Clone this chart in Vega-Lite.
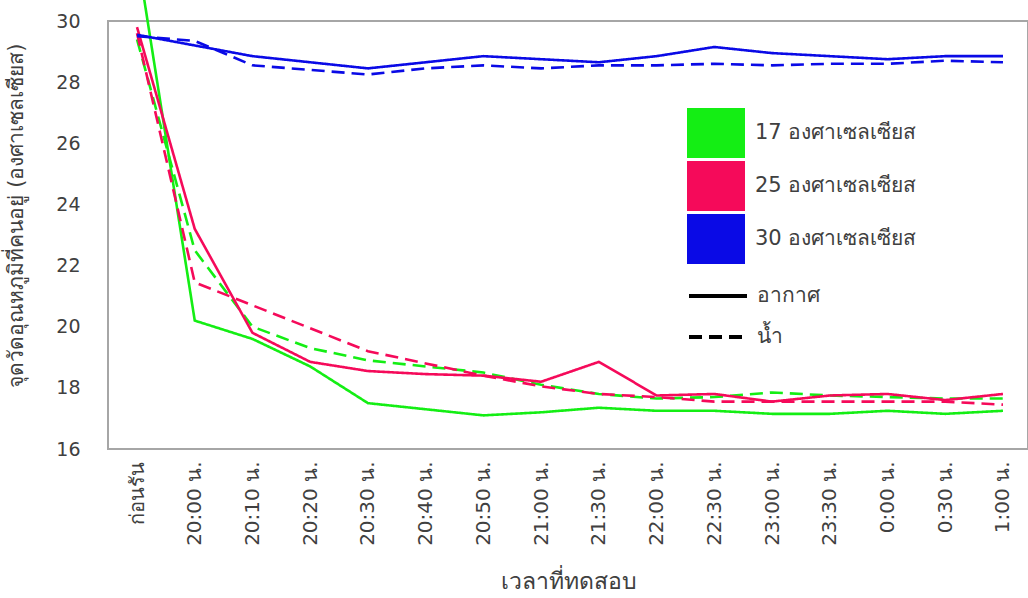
{
  "$schema": "https://vega.github.io/schema/vega-lite/v6.json",
  "autosize": "none",
  "width": 920,
  "height": 428,
  "padding": {"left": 108, "top": 21, "right": 0, "bottom": 149},
  "background": "white",
  "config": {
    "view": {"stroke": "#A6A6A6", "strokeWidth": 2},
    "font": "DejaVu Sans"
  },
  "data": {
    "values": [
      {"time": "ก่อนรัน", "temp": 32.2, "setting": "17 องศาเซลเซียส", "medium": "อากาศ"},
      {"time": "20:00 น.", "temp": 20.2, "setting": "17 องศาเซลเซียส", "medium": "อากาศ"},
      {"time": "20:10 น.", "temp": 19.6, "setting": "17 องศาเซลเซียส", "medium": "อากาศ"},
      {"time": "20:20 น.", "temp": 18.7, "setting": "17 องศาเซลเซียส", "medium": "อากาศ"},
      {"time": "20:30 น.", "temp": 17.5, "setting": "17 องศาเซลเซียส", "medium": "อากาศ"},
      {"time": "20:40 น.", "temp": 17.3, "setting": "17 องศาเซลเซียส", "medium": "อากาศ"},
      {"time": "20:50 น.", "temp": 17.1, "setting": "17 องศาเซลเซียส", "medium": "อากาศ"},
      {"time": "21:00 น.", "temp": 17.2, "setting": "17 องศาเซลเซียส", "medium": "อากาศ"},
      {"time": "21:30 น.", "temp": 17.35, "setting": "17 องศาเซลเซียส", "medium": "อากาศ"},
      {"time": "22:00 น.", "temp": 17.25, "setting": "17 องศาเซลเซียส", "medium": "อากาศ"},
      {"time": "22:30 น.", "temp": 17.25, "setting": "17 องศาเซลเซียส", "medium": "อากาศ"},
      {"time": "23:00 น.", "temp": 17.15, "setting": "17 องศาเซลเซียส", "medium": "อากาศ"},
      {"time": "23:30 น.", "temp": 17.15, "setting": "17 องศาเซลเซียส", "medium": "อากาศ"},
      {"time": "0:00 น.", "temp": 17.25, "setting": "17 องศาเซลเซียส", "medium": "อากาศ"},
      {"time": "0:30 น.", "temp": 17.15, "setting": "17 องศาเซลเซียส", "medium": "อากาศ"},
      {"time": "1:00 น.", "temp": 17.25, "setting": "17 องศาเซลเซียส", "medium": "อากาศ"},

      {"time": "ก่อนรัน", "temp": 29.4, "setting": "17 องศาเซลเซียส", "medium": "น้ำ"},
      {"time": "20:00 น.", "temp": 22.5, "setting": "17 องศาเซลเซียส", "medium": "น้ำ"},
      {"time": "20:10 น.", "temp": 20.0, "setting": "17 องศาเซลเซียส", "medium": "น้ำ"},
      {"time": "20:20 น.", "temp": 19.3, "setting": "17 องศาเซลเซียส", "medium": "น้ำ"},
      {"time": "20:30 น.", "temp": 18.9, "setting": "17 องศาเซลเซียส", "medium": "น้ำ"},
      {"time": "20:40 น.", "temp": 18.7, "setting": "17 องศาเซลเซียส", "medium": "น้ำ"},
      {"time": "20:50 น.", "temp": 18.5, "setting": "17 องศาเซลเซียส", "medium": "น้ำ"},
      {"time": "21:00 น.", "temp": 18.1, "setting": "17 องศาเซลเซียส", "medium": "น้ำ"},
      {"time": "21:30 น.", "temp": 17.8, "setting": "17 องศาเซลเซียส", "medium": "น้ำ"},
      {"time": "22:00 น.", "temp": 17.65, "setting": "17 องศาเซลเซียส", "medium": "น้ำ"},
      {"time": "22:30 น.", "temp": 17.7, "setting": "17 องศาเซลเซียส", "medium": "น้ำ"},
      {"time": "23:00 น.", "temp": 17.85, "setting": "17 องศาเซลเซียส", "medium": "น้ำ"},
      {"time": "23:30 น.", "temp": 17.75, "setting": "17 องศาเซลเซียส", "medium": "น้ำ"},
      {"time": "0:00 น.", "temp": 17.7, "setting": "17 องศาเซลเซียส", "medium": "น้ำ"},
      {"time": "0:30 น.", "temp": 17.65, "setting": "17 องศาเซลเซียส", "medium": "น้ำ"},
      {"time": "1:00 น.", "temp": 17.65, "setting": "17 องศาเซลเซียส", "medium": "น้ำ"},

      {"time": "ก่อนรัน", "temp": 29.8, "setting": "25 องศาเซลเซียส", "medium": "อากาศ"},
      {"time": "20:00 น.", "temp": 23.2, "setting": "25 องศาเซลเซียส", "medium": "อากาศ"},
      {"time": "20:10 น.", "temp": 19.8, "setting": "25 องศาเซลเซียส", "medium": "อากาศ"},
      {"time": "20:20 น.", "temp": 18.85, "setting": "25 องศาเซลเซียส", "medium": "อากาศ"},
      {"time": "20:30 น.", "temp": 18.55, "setting": "25 องศาเซลเซียส", "medium": "อากาศ"},
      {"time": "20:40 น.", "temp": 18.45, "setting": "25 องศาเซลเซียส", "medium": "อากาศ"},
      {"time": "20:50 น.", "temp": 18.4, "setting": "25 องศาเซลเซียส", "medium": "อากาศ"},
      {"time": "21:00 น.", "temp": 18.2, "setting": "25 องศาเซลเซียส", "medium": "อากาศ"},
      {"time": "21:30 น.", "temp": 18.85, "setting": "25 องศาเซลเซียส", "medium": "อากาศ"},
      {"time": "22:00 น.", "temp": 17.75, "setting": "25 องศาเซลเซียส", "medium": "อากาศ"},
      {"time": "22:30 น.", "temp": 17.8, "setting": "25 องศาเซลเซียส", "medium": "อากาศ"},
      {"time": "23:00 น.", "temp": 17.55, "setting": "25 องศาเซลเซียส", "medium": "อากาศ"},
      {"time": "23:30 น.", "temp": 17.75, "setting": "25 องศาเซลเซียส", "medium": "อากาศ"},
      {"time": "0:00 น.", "temp": 17.8, "setting": "25 องศาเซลเซียส", "medium": "อากาศ"},
      {"time": "0:30 น.", "temp": 17.6, "setting": "25 องศาเซลเซียส", "medium": "อากาศ"},
      {"time": "1:00 น.", "temp": 17.8, "setting": "25 องศาเซลเซียส", "medium": "อากาศ"},

      {"time": "ก่อนรัน", "temp": 29.6, "setting": "25 องศาเซลเซียส", "medium": "น้ำ"},
      {"time": "20:00 น.", "temp": 21.45, "setting": "25 องศาเซลเซียส", "medium": "น้ำ"},
      {"time": "20:10 น.", "temp": 20.7, "setting": "25 องศาเซลเซียส", "medium": "น้ำ"},
      {"time": "20:20 น.", "temp": 19.95, "setting": "25 องศาเซลเซียส", "medium": "น้ำ"},
      {"time": "20:30 น.", "temp": 19.2, "setting": "25 องศาเซลเซียส", "medium": "น้ำ"},
      {"time": "20:40 น.", "temp": 18.8, "setting": "25 องศาเซลเซียส", "medium": "น้ำ"},
      {"time": "20:50 น.", "temp": 18.4, "setting": "25 องศาเซลเซียส", "medium": "น้ำ"},
      {"time": "21:00 น.", "temp": 18.05, "setting": "25 องศาเซลเซียส", "medium": "น้ำ"},
      {"time": "21:30 น.", "temp": 17.8, "setting": "25 องศาเซลเซียส", "medium": "น้ำ"},
      {"time": "22:00 น.", "temp": 17.7, "setting": "25 องศาเซลเซียส", "medium": "น้ำ"},
      {"time": "22:30 น.", "temp": 17.55, "setting": "25 องศาเซลเซียส", "medium": "น้ำ"},
      {"time": "23:00 น.", "temp": 17.55, "setting": "25 องศาเซลเซียส", "medium": "น้ำ"},
      {"time": "23:30 น.", "temp": 17.55, "setting": "25 องศาเซลเซียส", "medium": "น้ำ"},
      {"time": "0:00 น.", "temp": 17.55, "setting": "25 องศาเซลเซียส", "medium": "น้ำ"},
      {"time": "0:30 น.", "temp": 17.55, "setting": "25 องศาเซลเซียส", "medium": "น้ำ"},
      {"time": "1:00 น.", "temp": 17.45, "setting": "25 องศาเซลเซียส", "medium": "น้ำ"},

      {"time": "ก่อนรัน", "temp": 29.55, "setting": "30 องศาเซลเซียส", "medium": "อากาศ"},
      {"time": "20:00 น.", "temp": 29.2, "setting": "30 องศาเซลเซียส", "medium": "อากาศ"},
      {"time": "20:10 น.", "temp": 28.85, "setting": "30 องศาเซลเซียส", "medium": "อากาศ"},
      {"time": "20:20 น.", "temp": 28.65, "setting": "30 องศาเซลเซียส", "medium": "อากาศ"},
      {"time": "20:30 น.", "temp": 28.45, "setting": "30 องศาเซลเซียส", "medium": "อากาศ"},
      {"time": "20:40 น.", "temp": 28.65, "setting": "30 องศาเซลเซียส", "medium": "อากาศ"},
      {"time": "20:50 น.", "temp": 28.85, "setting": "30 องศาเซลเซียส", "medium": "อากาศ"},
      {"time": "21:00 น.", "temp": 28.75, "setting": "30 องศาเซลเซียส", "medium": "อากาศ"},
      {"time": "21:30 น.", "temp": 28.65, "setting": "30 องศาเซลเซียส", "medium": "อากาศ"},
      {"time": "22:00 น.", "temp": 28.85, "setting": "30 องศาเซลเซียส", "medium": "อากาศ"},
      {"time": "22:30 น.", "temp": 29.15, "setting": "30 องศาเซลเซียส", "medium": "อากาศ"},
      {"time": "23:00 น.", "temp": 28.95, "setting": "30 องศาเซลเซียส", "medium": "อากาศ"},
      {"time": "23:30 น.", "temp": 28.85, "setting": "30 องศาเซลเซียส", "medium": "อากาศ"},
      {"time": "0:00 น.", "temp": 28.75, "setting": "30 องศาเซลเซียส", "medium": "อากาศ"},
      {"time": "0:30 น.", "temp": 28.85, "setting": "30 องศาเซลเซียส", "medium": "อากาศ"},
      {"time": "1:00 น.", "temp": 28.85, "setting": "30 องศาเซลเซียส", "medium": "อากาศ"},

      {"time": "ก่อนรัน", "temp": 29.5, "setting": "30 องศาเซลเซียส", "medium": "น้ำ"},
      {"time": "20:00 น.", "temp": 29.35, "setting": "30 องศาเซลเซียส", "medium": "น้ำ"},
      {"time": "20:10 น.", "temp": 28.55, "setting": "30 องศาเซลเซียส", "medium": "น้ำ"},
      {"time": "20:20 น.", "temp": 28.4, "setting": "30 องศาเซลเซียส", "medium": "น้ำ"},
      {"time": "20:30 น.", "temp": 28.25, "setting": "30 องศาเซลเซียส", "medium": "น้ำ"},
      {"time": "20:40 น.", "temp": 28.45, "setting": "30 องศาเซลเซียส", "medium": "น้ำ"},
      {"time": "20:50 น.", "temp": 28.55, "setting": "30 องศาเซลเซียส", "medium": "น้ำ"},
      {"time": "21:00 น.", "temp": 28.45, "setting": "30 องศาเซลเซียส", "medium": "น้ำ"},
      {"time": "21:30 น.", "temp": 28.55, "setting": "30 องศาเซลเซียส", "medium": "น้ำ"},
      {"time": "22:00 น.", "temp": 28.55, "setting": "30 องศาเซลเซียส", "medium": "น้ำ"},
      {"time": "22:30 น.", "temp": 28.6, "setting": "30 องศาเซลเซียส", "medium": "น้ำ"},
      {"time": "23:00 น.", "temp": 28.55, "setting": "30 องศาเซลเซียส", "medium": "น้ำ"},
      {"time": "23:30 น.", "temp": 28.6, "setting": "30 องศาเซลเซียส", "medium": "น้ำ"},
      {"time": "0:00 น.", "temp": 28.6, "setting": "30 องศาเซลเซียส", "medium": "น้ำ"},
      {"time": "0:30 น.", "temp": 28.7, "setting": "30 องศาเซลเซียส", "medium": "น้ำ"},
      {"time": "1:00 น.", "temp": 28.65, "setting": "30 องศาเซลเซียส", "medium": "น้ำ"}
    ]
  },
  "mark": {"type": "line", "strokeWidth": 2.6, "clip": false},
  "encoding": {
    "x": {
      "field": "time",
      "type": "ordinal",
      "sort": ["ก่อนรัน", "20:00 น.", "20:10 น.", "20:20 น.", "20:30 น.", "20:40 น.", "20:50 น.", "21:00 น.", "21:30 น.", "22:00 น.", "22:30 น.", "23:00 น.", "23:30 น.", "0:00 น.", "0:30 น.", "1:00 น."],
      "scale": {"type": "point", "padding": 0.468, "align": 0.537},
      "axis": {
        "title": "เวลาที่ทดสอบ",
        "titleFontSize": 23,
        "titleFontWeight": "normal",
        "titleColor": "#404040",
        "titleY": 132,
        "titleBaseline": "middle",
        "labelAngle": 270,
        "labelAlign": "right",
        "labelBaseline": "middle",
        "labelFontSize": 20,
        "labelColor": "#404040",
        "labelPadding": 12,
        "ticks": false,
        "domain": false,
        "grid": false
      }
    },
    "y": {
      "field": "temp",
      "type": "quantitative",
      "scale": {"domain": [16, 30], "nice": false, "zero": false},
      "axis": {
        "title": "จุดวัดอุณหภูมิที่คนอยู่ (องศาเซลเซียส)",
        "titleFontSize": 21,
        "titleFontWeight": "normal",
        "titleColor": "#404040",
        "titleX": -82,
        "titleY": 194,
        "values": [16, 18, 20, 22, 24, 26, 28, 30],
        "labelFontSize": 19,
        "labelColor": "#404040",
        "labelPadding": 28,
        "ticks": false,
        "domain": false,
        "grid": false
      }
    },
    "color": {
      "field": "setting",
      "type": "nominal",
      "scale": {
        "domain": ["17 องศาเซลเซียส", "25 องศาเซลเซียส", "30 องศาเซลเซียส"],
        "range": ["#14EE14", "#F50A5A", "#0A0AE6"]
      },
      "legend": {
        "title": null,
        "orient": "none",
        "legendX": 583,
        "legendY": 87,
        "symbolType": "M-1.16,-1H1.16V1H-1.16Z",
        "symbolSize": 2500,
        "symbolStrokeWidth": 0,
        "labelFontSize": 21,
        "labelLimit": 400,
        "labelColor": "#404040",
        "labelOffset": 14,
        "rowPadding": 3,
        "encode": {
          "symbols": {
            "update": {
              "fill": {"scale": "color", "field": "value"},
              "fillOpacity": {"value": 1},
              "strokeWidth": {"value": 0}
            }
          }
        }
      }
    },
    "strokeDash": {
      "field": "medium",
      "type": "nominal",
      "scale": {"domain": ["อากาศ", "น้ำ"], "range": [[1, 0], [13, 7]]},
      "legend": {
        "title": null,
        "orient": "none",
        "legendX": 579,
        "legendY": 244,
        "symbolSize": 3364,
        "symbolStrokeWidth": 4,
        "symbolStrokeColor": "black",
        "labelFontSize": 21,
        "labelLimit": 400,
        "labelColor": "#404040",
        "labelOffset": 8,
        "rowPadding": -12,
        "encode": {
          "symbols": {
            "update": {
              "strokeDash": {"signal": "datum.value === 'น้ำ' ? [20, 18] : [1, 0]"},
              "stroke": {"value": "black"}
            }
          }
        }
      }
    }
  }
}
